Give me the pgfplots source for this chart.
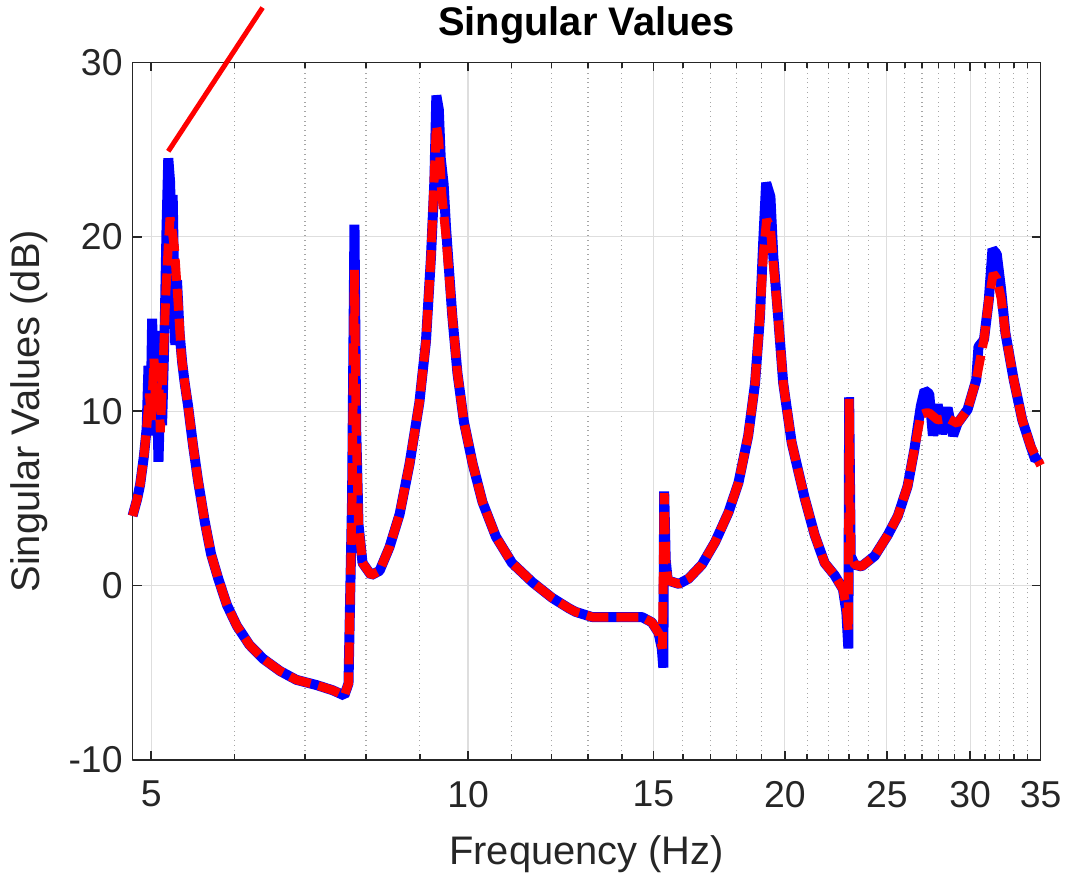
\documentclass[border=0pt]{standalone}
\usepackage{pgfplots}
\pgfplotsset{compat=1.18}
\usepackage{pgfplotstable}
\usepackage{fontspec}
\setmainfont{Liberation Sans}
\definecolor{axgray}{RGB}{38,38,38}

% blue: singular values (measured), red: dashed overlay (model)
\pgfplotstableread{
f     db
4.80  4.0
4.85  5.0
4.88  5.8
4.92  7.4
4.95  9.0
4.97  12.6
4.99  8.6
5.01  15.3
5.03  10.0
5.05  14.6
5.08  7.1
5.10  11.0
5.12  9.2
5.15  15.0
5.17  20.5
5.19  24.5
5.21  23.2
5.23  19.5
5.24  22.4
5.27  13.8
5.29  17.5
5.32  14.5
5.35  12.8
5.38  11.6
5.42  10.3
5.48  8.0
5.54  6.0
5.62  3.7
5.70  1.8
5.79  0.4
5.90  -1.1
6.03  -2.3
6.20  -3.4
6.39  -4.2
6.63  -4.9
6.87  -5.4
7.18  -5.7
7.44  -6.0
7.63  -6.3
7.70  -5.6
7.76  5.0
7.80  20.7
7.83  9.0
7.87  3.5
7.94  1.3
8.09  0.6
8.24  0.85
8.42  2.2
8.61  4.1
8.80  7.0
8.99  10.5
9.12  14.0
9.22  18.8
9.29  23.2
9.33  28.1
9.38  27.3
9.42  24.5
9.48  23.0
9.53  20.5
9.66  15.5
9.77  12.2
9.91  9.4
10.10 7.0
10.32 4.8
10.63 2.8
11.01 1.3
11.51 0.2
12.02 -0.7
12.47 -1.3
12.65 -1.5
13.12 -1.8
13.60 -1.8
14.11 -1.8
14.63 -1.8
14.95 -2.1
15.17 -2.7
15.28 -3.6
15.33 -4.7
15.36 5.4
15.41 1.5
15.48 0.3
15.86 0.1
16.20 0.4
16.68 1.2
17.17 2.5
17.68 4.2
18.07 5.9
18.46 8.6
18.74 11.6
18.94 15.4
19.08 19.8
19.20 23.1
19.38 22.3
19.50 18.9
19.71 15.4
19.93 11.6
20.30 8.2
20.59 6.6
20.89 5.0
21.35 2.9
21.82 1.3
22.30 0.6
22.71 -0.2
22.88 -1.5
22.98 -3.6
23.02 10.8
23.10 1.7
23.30 1.2
23.65 1.1
24.34 1.7
25.05 2.9
25.61 4.0
26.16 5.7
26.55 7.8
26.93 10.3
27.15 11.2
27.43 11.0
27.65 8.6
27.94 10.4
28.20 8.7
28.55 10.2
28.90 8.6
29.18 9.3
29.83 10.1
30.40 11.8
30.55 13.7
30.92 14.1
31.25 16.4
31.50 19.3
31.80 19.0
32.10 17.0
32.40 14.5
33.00 11.8
33.62 9.5
34.24 8.0
34.60 7.2
35.00 7.4
}\blueline

\pgfplotstableread{
f     db
4.80  4.0
4.85  5.0
4.88  5.8
4.92  7.4
4.95  9.0
4.98  11.0
5.00  9.5
5.03  13.0
5.05  10.0
5.08  12.5
5.10  8.8
5.13  12.3
5.16  16.5
5.19  19.5
5.21  21.1
5.23  20.5
5.26  19.4
5.30  16.4
5.34  13.2
5.38  11.6
5.42  10.3
5.48  8.0
5.54  6.0
5.62  3.7
5.70  1.8
5.79  0.4
5.90  -1.1
6.03  -2.3
6.20  -3.4
6.39  -4.2
6.63  -4.9
6.87  -5.4
7.18  -5.7
7.44  -6.0
7.63  -6.3
7.70  -5.6
7.76  5.0
7.80  18.1
7.83  9.0
7.87  3.5
7.94  1.3
8.09  0.6
8.24  0.85
8.42  2.2
8.61  4.1
8.80  7.0
8.99  10.5
9.12  14.0
9.22  18.8
9.28  23.0
9.33  26.4
9.38  25.5
9.44  22.5
9.53  20.0
9.66  15.5
9.77  12.2
9.91  9.4
10.10 7.0
10.32 4.8
10.63 2.8
11.01 1.3
11.51 0.2
12.02 -0.7
12.47 -1.3
12.65 -1.5
13.12 -1.8
13.60 -1.8
14.11 -1.8
14.63 -1.8
14.95 -2.1
15.17 -2.7
15.30 -3.6
15.36 5.3
15.41 1.5
15.48 0.3
15.86 0.1
16.20 0.4
16.68 1.2
17.17 2.5
17.68 4.2
18.07 5.9
18.46 8.6
18.74 11.6
18.94 15.4
19.08 19.0
19.22 21.0
19.38 20.5
19.50 18.5
19.71 15.4
19.93 11.6
20.30 8.2
20.59 6.6
20.89 5.0
21.35 2.9
21.82 1.3
22.30 0.6
22.71 -0.2
22.88 -1.2
22.98 -2.6
23.02 10.7
23.10 1.7
23.30 1.2
23.65 1.1
24.34 1.7
25.05 2.9
25.61 4.0
26.16 5.7
26.55 7.8
26.93 9.8
27.20 9.9
27.43 9.9
27.94 9.5
28.55 9.6
29.18 9.3
29.83 10.1
30.40 11.8
30.92 14.1
31.25 16.4
31.55 17.9
31.80 17.6
32.10 16.5
32.40 14.5
33.00 11.8
33.62 9.5
34.24 8.0
35.00 6.9
}\redline

\begin{document}
\begin{tikzpicture}
\begin{axis}[
    scale only axis,
    width=455.5bp, height=350bp,
    xmode=log,
    xmin=4.8, xmax=35, ymin=-10, ymax=30,
    xtick={5,10,15,20,25,30,35},
    xticklabels={5,10,15,20,25,30,35},
    minor xtick={6,7,8,9,11,12,13,14,16,17,18,19,21,22,23,24,26,27,28,29,31,32,33,34},
    ytick={-10,0,10,20,30},
    yticklabels={-10,0,10,20,30},
    grid=both,
    major grid style={black!13, line width=0.6bp},
    minor grid style={black!35, dotted, line width=0.6bp},
    tick align=inside,
    major tick length=4.5bp, minor tick length=3bp,
    every tick/.style={axgray, line width=0.8bp},
    axis line style={axgray, line width=0.8bp},
    ticklabel style={font=\fontsize{18.75bp}{22bp}\selectfont, text=axgray},
    xticklabel style={yshift=-7bp},
    yticklabel style={xshift=-1.5bp},
    label style={font=\fontsize{20bp}{24bp}\selectfont, text=axgray},
    xlabel={Frequency (Hz)},
    ylabel={Singular Values (dB)},
    xlabel style={at={(axis description cs:0.5,0)}, anchor=base, yshift=-52.5bp},
    ylabel style={at={(axis description cs:-0.1021,0.5)}, anchor=base},
    title={Singular Values},
    title style={font=\fontsize{20bp}{24bp}\selectfont\bfseries, at={(axis description cs:0.5,1)}, anchor=base, yshift=7.5bp},
    clip=false,
    line join=bevel,
]
    \addplot[blue, line width=5bp] table[x=f, y=db] {\blueline};
    \addplot[red, line width=4.5bp, dash pattern=on 11bp off 4bp] table[x=f, y=db] {\redline};
    % pointer line to the first peak
    \addplot[red, line width=2.5bp, forget plot] coordinates {(5.19,24.9) (6.38,33.14)};
    % page extent
    \path (rel axis cs:-0.146,-0.1643) rectangle (rel axis cs:1.0263,1.0786);
\end{axis}
\end{tikzpicture}
\end{document}
